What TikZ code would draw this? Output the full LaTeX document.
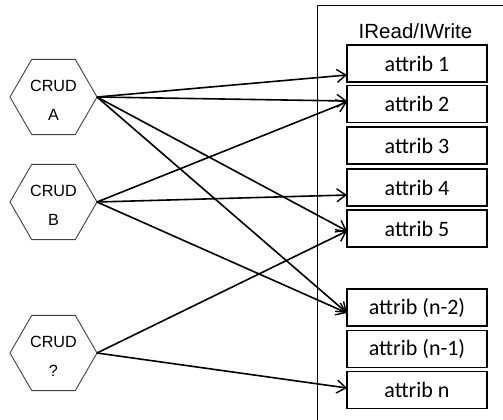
\documentclass[tikz,border=0pt]{standalone}
\usepackage{fontspec}
\setmainfont{Liberation Sans}
\newfontfamily\boxfont{Carlito}
\usetikzlibrary{shapes.geometric,arrows.meta}

\tikzset{
  hexbox/.style={draw=black!75, line width=0.9pt, regular polygon, regular polygon sides=6,
    minimum size=87pt, inner sep=0pt, outer sep=0pt},
  hextext/.style={align=center, font=\fontsize{16.2}{28.5}\selectfont, inner sep=0pt},
  attrbox/.style={draw=black, line width=1.8pt, minimum width=140pt, minimum height=37pt,
    inner sep=0pt, outer sep=0pt, font=\boxfont\fontsize{22}{26}\selectfont},
  link/.style={line width=1.6pt, -{Straight Barb[length=9pt,width=13pt,line width=1.4pt]}},
  frame/.style={draw=black, line width=0.9pt}
}

\begin{document}
\begin{tikzpicture}[x=1pt, y=-1pt]
  \useasboundingbox (0,0) rectangle (503,420);

  % interface frame, open towards the right and the bottom
  \coordinate (ftr) at (503,5);
  \coordinate (ftl) at (317,5);
  \coordinate (fbl) at (317,420);
  \draw[frame] (ftr) -- (ftl) -- (fbl);
  \node[font=\fontsize{20.5}{24}\selectfont, inner sep=0pt] (hdr) at (415.5,31) {IRead/IWrite};

  % attribute boxes
  \node[attrbox] (a1)  at (417,63.5)  {attrib 1};
  \node[attrbox] (a2)  at (417,104)   {attrib 2};
  \node[attrbox] (a3)  at (417,145.5) {attrib 3};
  \node[attrbox] (a4)  at (417,187.5) {attrib 4};
  \node[attrbox] (a5)  at (417,228.5) {attrib 5};
  \node[attrbox] (an2) at (417,307.5) {attrib (n-2)};
  \node[attrbox] (an1) at (417,349)   {attrib (n-1)};
  \node[attrbox] (an)  at (417,390)   {attrib n};

  % CRUD actors
  \node[hexbox] (ha) at (53.5,97)  {};
  \node[hexbox] (hb) at (53.5,202) {};
  \node[hexbox] (hq) at (53.5,353) {};
  \node[hextext] (ta) at ([yshift=-3.5pt]ha.center) {CRUD\\A};
  \node[hextext] (tb) at ([yshift=-3.5pt]hb.center) {CRUD\\B};
  \node[hextext] (tq) at ([yshift=-3.5pt]hq.center) {CRUD\\?};

  % access links
  \draw[link] (ha.east) -- ([yshift=-11.5pt]a1.west);
  \draw[link] (ha.east) -- ([yshift=3pt]a2.west);
  \draw[link] (ha.east) -- ([yshift=-2.5pt]a5.west);
  \draw[link] (ha.east) -- ([yshift=-5.5pt]an2.west);
  \draw[link] (hb.east) -- ([yshift=2pt]a2.west);
  \draw[link] (hb.east) -- ([yshift=-7.5pt]a4.west);
  \draw[link] (hb.east) -- ([yshift=-5.5pt]an2.west);
  \draw[link] (hq.east) -- ([yshift=-2.5pt]a5.west);
  \draw[link] (hq.east) -- ([yshift=2pt]an.west);
\end{tikzpicture}
\end{document}
